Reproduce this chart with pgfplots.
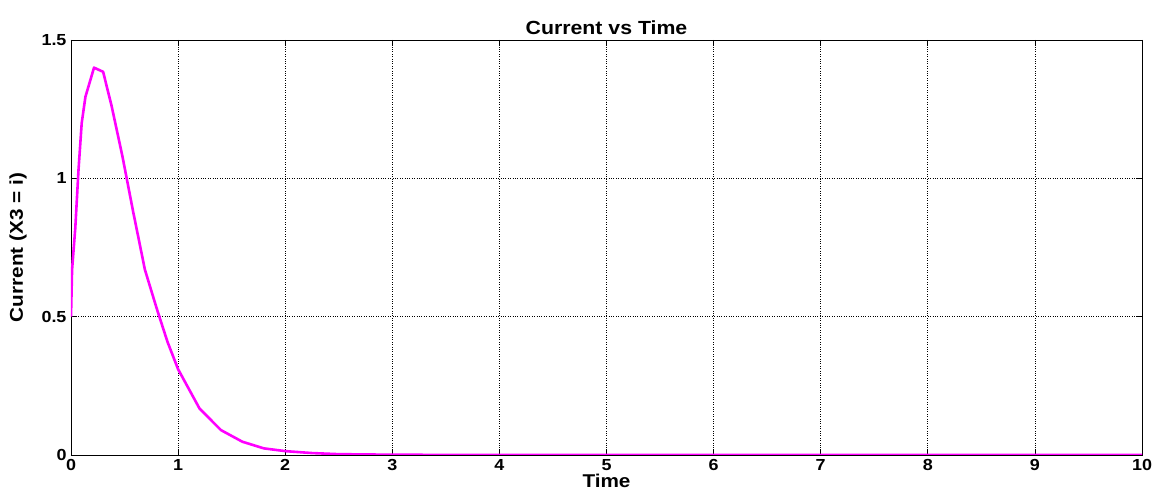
\documentclass[border=0pt]{standalone}
\usepackage{pgfplots}
\pgfplotsset{compat=1.18}
\usepackage{fontspec}
\setmainfont{Liberation Sans}[FakeStretch=1.12]

\begin{document}
\begin{tikzpicture}
\begin{axis}[
  scale only axis,
  width=1071pt, height=415pt,
  xmin=0, xmax=10, ymin=0, ymax=1.5,
  xtick={0,1,...,10},
  ytick={0,0.5,1,1.5},
  yticklabels={0,0.5,1,1.5},
  /pgf/number format/assume math mode=true,
  tick label style={font=\fontsize{16}{18}\selectfont\bfseries},
  tick align=inside,
  major tick length=6pt,
  tick style={black, line width=0.8pt},
  xmajorgrids, ymajorgrids,
  major grid style={black, dotted, line width=0.7pt},
  axis line style={black, line width=0.9pt},
  title={Current vs Time},
  title style={font=\fontsize{19}{21}\selectfont\bfseries, yshift=-4pt},
  xlabel={Time},
  ylabel={Current (X3 = i)},
  label style={font=\fontsize{18.5}{20}\selectfont\bfseries},
  xlabel style={yshift=4pt},
  ylabel style={yshift=8pt},
  xticklabel style={yshift=-1pt},
  yticklabel style={xshift=-1pt},
]
\addplot[color={rgb,255:red,255;green,0;blue,255}, line width=2.6pt, line join=round] coordinates {
  (0,0.50) (0.01,0.67) (0.04,0.82) (0.07,1.03) (0.10,1.20) (0.135,1.295)
  (0.215,1.40) (0.30,1.385) (0.38,1.26) (0.48,1.08) (0.58,0.88)
  (0.69,0.67) (0.80,0.53) (0.90,0.41) (1.00,0.31) (1.20,0.168)
  (1.40,0.090) (1.60,0.048) (1.80,0.024) (2.00,0.014) (2.25,0.007)
  (2.50,0.003) (3.00,0.001) (4.00,0) (10,0)
};
\end{axis}
\pgfresetboundingbox
\path (current axis.south west) ++(-71pt,-39pt) rectangle ++(1158pt,494pt);
\end{tikzpicture}
\end{document}
